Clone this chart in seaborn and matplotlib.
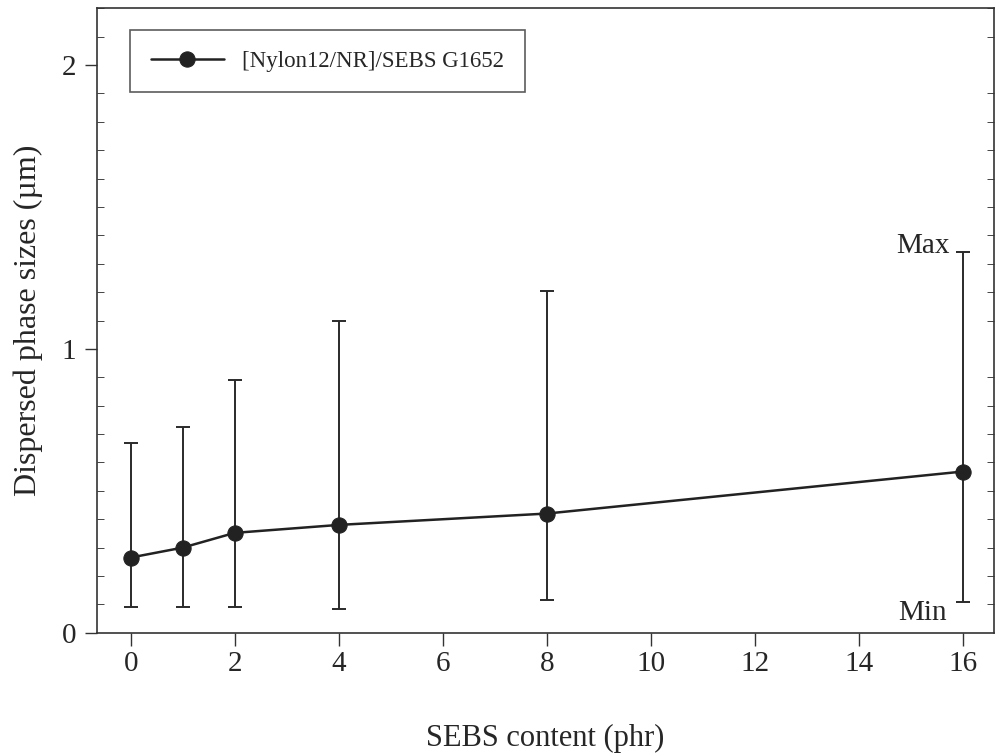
import numpy as np
import pandas as pd
import seaborn as sns
import matplotlib.pyplot as plt
from matplotlib.ticker import MultipleLocator

# SEBS content (phr) and dispersed phase sizes (um)
sebs = [0, 1, 2, 4, 8, 16]
size_mean = [0.265, 0.30, 0.352, 0.38, 0.42, 0.568]
size_max = [0.667, 0.724, 0.89, 1.10, 1.205, 1.342]
size_min = [0.09, 0.09, 0.09, 0.083, 0.116, 0.11]
series_name = "[Nylon12/NR]/SEBS G1652"
xticks = [0, 2, 4, 6, 8, 10, 12, 14, 16]
yticks = [0, 1, 2]

df = pd.DataFrame({"sebs": sebs, "size": size_mean})

sns.set_style("ticks")
plt.rcParams['font.family'] = ['Liberation Serif', 'DejaVu Serif']

fig = plt.figure(figsize=(9.99, 7.56), dpi=100)
ax = fig.add_axes([0.097, 0.163, 0.898, 0.826])

lo = np.array(size_mean) - np.array(size_min)
hi = np.array(size_max) - np.array(size_mean)
ax.errorbar(sebs, size_mean, yerr=[lo, hi], fmt='none', ecolor='#2a2a2a',
            elinewidth=1.4, capsize=5, capthick=1.4, zorder=2)
sns.lineplot(data=df, x="sebs", y="size", ax=ax, color='#222222', lw=1.8,
             marker='o', markersize=11, markeredgecolor='#222222',
             label=series_name, zorder=3)

ax.text(sebs[-1] - 0.25, size_max[-1] + 0.02, "Max", ha='right', va='center', fontsize=21)
ax.text(sebs[-1] - 0.3, size_min[-1] - 0.04, "Min", ha='right', va='center', fontsize=21)

ax.set_xlim(-0.65, 16.6)
ax.set_ylim(0, 2.2)
ax.set_xticks(xticks)
ax.set_yticks(yticks)
ax.yaxis.set_minor_locator(MultipleLocator(0.1))
ax.tick_params(axis='both', which='major', labelsize=21, length=9, width=1, color='#333333')
ax.tick_params(axis='x', which='major', pad=4)
ax.tick_params(axis='y', which='major', pad=6)
ax.tick_params(axis='y', which='minor', direction='in', length=5, left=True, right=True)
for s in ax.spines.values():
    s.set_color('#333333')
    s.set_linewidth(1.2)

ax.set_xlabel("SEBS content (phr)", fontsize=22, labelpad=34)
ax.set_ylabel("Dispersed phase sizes (\u00b5m)", fontsize=23)
ax.yaxis.set_label_coords(-0.06, 0.5)

leg = ax.legend(loc='upper left', bbox_to_anchor=(0.037, 0.965), fontsize=16.5,
                frameon=True, fancybox=False, edgecolor='#333333',
                handlelength=3.2, borderpad=0.9, borderaxespad=0)
leg.get_frame().set_linewidth(1.2)

fig.savefig("out.png", dpi=100, facecolor='white')
